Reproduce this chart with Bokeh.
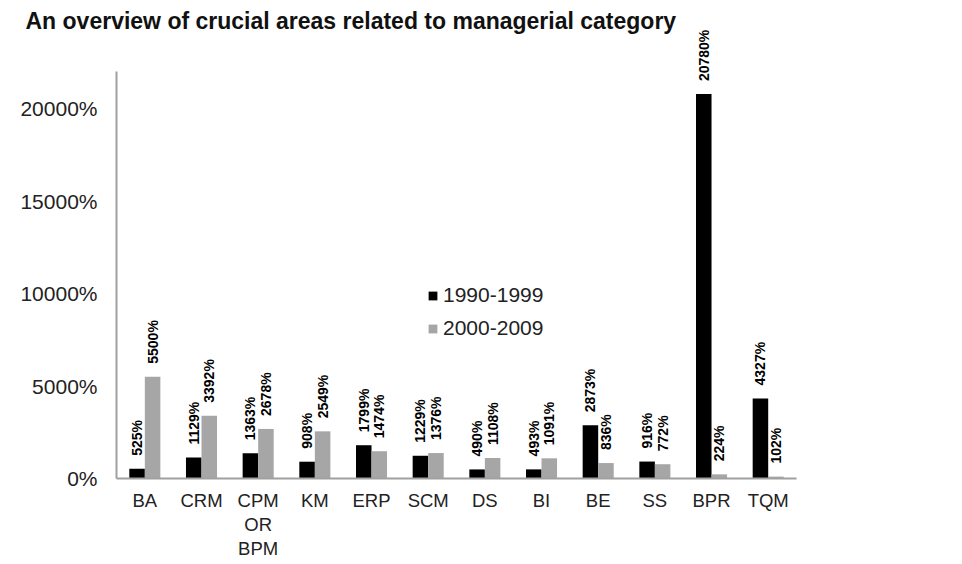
from bokeh.plotting import figure
from bokeh.models import ColumnDataSource, LabelSet, FixedTicker, Range1d, Legend
from bokeh.core.properties import value
from bokeh.embed import file_html
from bokeh.resources import INLINE

categories = ["BA", "CRM", "CPM OR BPM", "KM", "ERP", "SCM", "DS", "BI", "BE", "SS", "BPR", "TQM"]
category_labels = ["BA", "CRM", "CPM\nOR\nBPM", "KM", "ERP", "SCM", "DS", "BI", "BE", "SS", "BPR", "TQM"]
series_names = ["1990-1999", "2000-2009"]
values_1990s = [525, 1129, 1363, 908, 1799, 1229, 490, 493, 2873, 916, 20780, 4327]
values_2000s = [5500, 3392, 2678, 2549, 1474, 1376, 1108, 1091, 836, 772, 224, 102]
y_ticks = [0, 5000, 10000, 15000, 20000]
y_tick_labels = ["0%", "5000%", "10000%", "15000%", "20000%"]
y_axis_max = 22000
title_text = "An overview of crucial areas related to managerial category"

FONT = "Liberation Sans"

# ---- layout (pixels) ----
W, H = 960, 562
frame_left = 114          # page x of plot frame left edge
axis_x_px = 116           # page x of the value axis
zero_px = 478             # page y of 0%
px_per_unit = 370 / 20000 # pixels per percent unit
cat_px = 56.67            # pixels per category
frame_top = 28

n = len(categories)
xs = list(range(n))
x_start = -0.5 - (axis_x_px - frame_left) / cat_px
x_end = -0.5 + (W - axis_x_px) / cat_px
y_end = (zero_px - frame_top) / px_per_unit
y_start = -(H - zero_px) / px_per_unit

bw = 0.274
src = ColumnDataSource(dict(
    x1=[x - bw / 2 for x in xs],
    x2=[x + bw / 2 for x in xs],
    v1=values_1990s,
    v2=values_2000s,
    l1=[f"{v}%" for v in values_1990s],
    l2=[f"{v}%" for v in values_2000s],
))

p = figure(width=W, height=H, x_range=Range1d(x_start, x_end), y_range=Range1d(y_start, y_end),
           output_backend="svg", toolbar_location=None, x_axis_location=None,
           min_border_left=frame_left, min_border_right=0, min_border_top=frame_top, min_border_bottom=0)
p.outline_line_color = None
p.xgrid.grid_line_color = None
p.ygrid.grid_line_color = None

r1 = p.vbar(x="x1", top="v1", width=bw, source=src, fill_color="#000000", line_color=None)
r2 = p.vbar(x="x2", top="v2", width=bw, source=src, fill_color="#a6a6a6", line_color=None)

# axis lines (drawn so that the value axis stops at 22000%)
p.segment(x0=[-0.5], y0=[0], x1=[n - 0.5], y1=[0], line_color="#a0a0a0", line_width=2)
p.segment(x0=[-0.5], y0=[0], x1=[-0.5], y1=[y_axis_max], line_color="#a0a0a0", line_width=2)

# category labels
p.text(x=xs, y=[0] * n, text=category_labels, text_align="center", text_baseline="top",
       y_offset=11, text_font=value(FONT), text_font_size="18.5px", text_color="#222222",
       text_line_height=1.15)

for xcol, ycol, tcol in (("x1", "v1", "l1"), ("x2", "v2", "l2")):
    ls = LabelSet(x=xcol, y=ycol, text=tcol, source=src,
                  angle=1.5708, text_align="left", text_baseline="middle", y_offset=13,
                  text_font=value(FONT), text_font_size="14px", text_font_style="bold",
                  text_color="#000000")
    p.add_layout(ls)

legend = Legend(items=[(series_names[0], [r1]), (series_names[1], [r2])],
                location=(313, 222), padding=0, margin=0, spacing=9,
                glyph_width=11, glyph_height=11, label_standoff=5,
                label_text_font=FONT, label_text_font_size="21px", label_text_color="#222222",
                border_line_color=None, background_fill_alpha=0)
p.add_layout(legend, "center")

# value axis: labels only
p.yaxis.ticker = FixedTicker(ticks=y_ticks)
p.yaxis.major_label_overrides = {t: s for t, s in zip(y_ticks, y_tick_labels)}
p.yaxis.axis_line_color = None
p.yaxis.major_tick_line_color = None
p.yaxis.minor_tick_line_color = None
p.yaxis.major_tick_out = 0
p.yaxis.major_tick_in = 0
p.yaxis.major_label_text_font = FONT
p.yaxis.major_label_text_color = "#222222"
p.yaxis.major_label_text_font_size = "21px"
p.yaxis.major_label_standoff = 17

p.title.text = title_text
p.title.align = "left"
p.title.offset = 25 - frame_left
p.title.text_font = FONT
p.title.text_font_size = "23px"
p.title.text_font_style = "bold"
p.title.text_color = "#111111"
try:
    p.title.standoff = -10
except Exception:
    p.title.standoff = 0

open("out.html", "w").write(file_html(p, INLINE))
